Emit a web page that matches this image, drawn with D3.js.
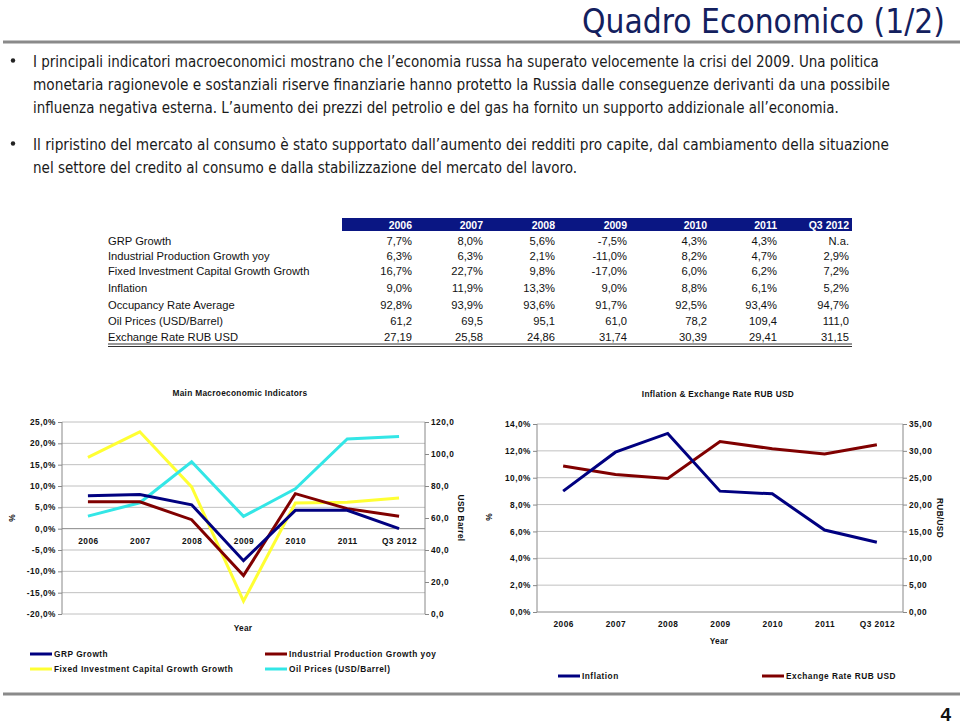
<!DOCTYPE html>
<html><head><meta charset="utf-8">
<script src="https://cdn.jsdelivr.net/npm/d3@7"></script>
<style>body{margin:0;background:#fff}svg{display:block}</style>
</head><body><svg id="c" width="960" height="727"></svg>
<script>
// ---------- DATA ----------
const years = ["2006","2007","2008","2009","2010","2011","Q3 2012"];
const grpGrowth = [7.7, 8.0, 5.6, -7.5, 4.3, 4.3, null];      // Q3 2012: N.a.
const industrialProd = [6.3, 6.3, 2.1, -11.0, 8.2, 4.7, 2.9];
const fixedInvestment = [16.7, 22.7, 9.8, -17.0, 6.0, 6.2, 7.2];
const inflation = [9.0, 11.9, 13.3, 9.0, 8.8, 6.1, 5.2];
const occupancyRate = [92.8, 93.9, 93.6, 91.7, 92.5, 93.4, 94.7];
const oilPrices = [61.2, 69.5, 95.1, 61.0, 78.2, 109.4, 111.0];
const exchangeRate = [27.19, 25.58, 24.86, 31.74, 30.39, 29.41, 31.15];
const leftPctTicks = [-20,-15,-10,-5,0,5,10,15,20,25];
const oilTicks = [0,20,40,60,80,100,120];
const inflTicks = [0,2,4,6,8,10,12,14];
const rubTicks = [0,5,10,15,20,25,30,35];
const bodyLines = [
  "I principali indicatori macroeconomici mostrano che l\u2019economia russa ha superato velocemente la crisi del 2009. Una politica",
  "monetaria ragionevole e sostanziali riserve finanziarie hanno protetto la Russia dalle conseguenze derivanti da una possibile",
  "influenza negativa esterna. L\u2019aumento dei prezzi del petrolio e del gas ha fornito un supporto addizionale all\u2019economia.",
  "Il ripristino del mercato al consumo \u00e8 stato supportato dall\u2019aumento dei redditi pro capite, dal cambiamento della situazione",
  "nel settore del credito al consumo e dalla stabilizzazione del mercato del lavoro."
];

// ---------- helpers ----------
const svg = d3.select("#c");
const comma = (f) => (v) => d3.format(f)(v).replace(".", ",").replace("\u2212","-");
const pct1 = (v) => v == null ? "N.a." : comma(".1f")(v) + "%";
const F = "'Liberation Sans', Arial, sans-serif";
const NAVY = "#000080", RED = "#800000", YEL = "#ffff33", CYAN = "#33e6e6";

// text fitted horizontally to a given width by scaling
function fitText(x, y, w, t, size, fill) {
  const s = svg.append("text").attr("x", 0).attr("y", 0)
    .attr("font-family", "'DejaVu Sans', sans-serif").attr("font-size", size).attr("fill", fill).text(t);
  const len = s.node().getComputedTextLength();
  s.attr("transform", `translate(${x},${y}) scale(${w / len},1)`);
  return s;
}

// ---------- Header ----------
fitText(945 - 363, 33, 363, "Quadro Economico (1/2)", 33, "#13205e");
svg.append("rect").attr("x", 3).attr("y", 40.5).attr("width", 957).attr("height", 3).attr("fill", "#8a8a8a");

const lineSpec = [[67, 847], [90, 857], [113, 806], [150, 857], [173, 545]];
[60.5, 143.5].forEach(y => svg.append("circle").attr("cx", 13).attr("cy", y).attr("r", 2.2).attr("fill", "#222"));
bodyLines.forEach((t, i) => fitText(33, lineSpec[i][0], lineSpec[i][1], t, 15, "#1a1a1a"));

// ---------- Table ----------
const colRight = [412, 483, 555, 627, 707, 777, 849];
svg.append("rect").attr("x", 342).attr("y", 218).attr("width", 510).attr("height", 13).attr("fill", "#0a1683");
years.forEach((y, i) => svg.append("text").attr("x", colRight[i]).attr("y", 228.5).attr("text-anchor", "end")
  .attr("font-family", F).attr("font-weight", "bold").attr("font-size", 10.5).attr("fill", "#fff").text(y));
const rows = [
  {label: "GRP Growth", vals: grpGrowth.map(pct1), y: 245},
  {label: "Industrial Production Growth yoy", vals: industrialProd.map(pct1), y: 259.5},
  {label: "Fixed Investment Capital Growth Growth", vals: fixedInvestment.map(pct1), y: 274.5},
  {label: "Inflation", vals: inflation.map(pct1), y: 292},
  {label: "Occupancy Rate Average", vals: occupancyRate.map(pct1), y: 309},
  {label: "Oil Prices (USD/Barrel)", vals: oilPrices.map(comma(".1f")), y: 325},
  {label: "Exchange Rate RUB USD", vals: exchangeRate.map(comma(".2f")), y: 341}
];
rows.forEach(r => {
  svg.append("text").attr("x", 108).attr("y", r.y).attr("font-family", F).attr("font-size", 11.2).attr("fill", "#111").text(r.label);
  r.vals.forEach((v, i) => svg.append("text").attr("x", colRight[i]).attr("y", r.y).attr("text-anchor", "end")
    .attr("font-family", F).attr("font-size", 11.2).attr("fill", "#111").text(v));
});
[344, 346.5].forEach(y => svg.append("line").attr("x1", 108).attr("x2", 852).attr("y1", y).attr("y2", y).attr("stroke", "#333").attr("stroke-width", 1));

// ---------- common chart style ----------
function styleAxis(g) {
  g.select(".domain").remove();
  g.selectAll(".tick line").attr("stroke", "#888");
  g.selectAll("text").attr("font-family", F).attr("font-weight", "bold").attr("font-size", 8.3)
    .attr("letter-spacing", 0.5).attr("fill", "#111");
}
function label(x, y, t, opts = {}) {
  const s = svg.append("text").attr("x", x).attr("y", y).attr("font-family", F).attr("font-weight", "bold")
    .attr("font-size", opts.size || 8.3).attr("fill", "#111").attr("text-anchor", opts.anchor || "middle")
    .attr("letter-spacing", opts.ls || 0.3).text(t);
  if (opts.rot) s.attr("transform", `rotate(${opts.rot},${x},${y})`);
  return s;
}

// ---------- Left chart ----------
{
  const L = 62, R = 425, T = 422, B = 614;
  const x = d3.scalePoint().domain(years).range([L, R]).padding(0.5);
  const y = d3.scaleLinear().domain([-20, 25]).range([B, T]);
  const y2 = d3.scaleLinear().domain([0, 120]).range([B, T]);
  const g = svg.append("g");
  g.selectAll(".grid").data(leftPctTicks).join("line")
    .attr("x1", L).attr("x2", R).attr("y1", d => y(d)).attr("y2", d => y(d))
    .attr("stroke", d => d === 0 ? "#888" : "#c0c0c0").attr("stroke-width", 1);
  g.append("line").attr("x1", L).attr("x2", L).attr("y1", T).attr("y2", B).attr("stroke", "#888");
  g.append("line").attr("x1", R).attr("x2", R).attr("y1", T).attr("y2", B).attr("stroke", "#888");
  g.append("g").attr("transform", `translate(${L},0)`)
    .call(d3.axisLeft(y).tickValues(leftPctTicks).tickSize(4).tickPadding(2).tickFormat(d => comma(".1f")(d) + "%")).call(styleAxis);
  g.append("g").attr("transform", `translate(${R},0)`)
    .call(d3.axisRight(y2).tickValues(oilTicks).tickSize(4).tickPadding(2).tickFormat(comma(".1f"))).call(styleAxis);
  g.append("g").attr("transform", `translate(0,${y(0)})`)
    .call(d3.axisBottom(x).tickSize(0).tickPadding(9)).call(styleAxis);

  const line = (scale) => d3.line().x((d, i) => x(years[i])).y(d => scale(d));
  const series = [
    {v: fixedInvestment, c: YEL, s: y},
    {v: oilPrices, c: CYAN, s: y2},
    {v: industrialProd, c: RED, s: y},
    {v: grpGrowth.map(v => v == null ? 0 : v), c: NAVY, s: y}
  ];
  series.forEach(se => g.append("path").datum(se.v).attr("d", line(se.s))
    .attr("fill", "none").attr("stroke", se.c).attr("stroke-width", 3).attr("stroke-linejoin", "miter"));

  label(240, 396, "Main Macroeconomic Indicators");
  label(243, 631, "Year");
  label(15, 518, "%", {rot: -90});
  label(458, 518, "USD Barrel", {rot: 90});

  const leg = [
    {t: "GRP Growth", c: NAVY, x: 30, y: 654},
    {t: "Industrial Production Growth yoy", c: RED, x: 265, y: 654},
    {t: "Fixed Investment Capital Growth Growth", c: YEL, x: 30, y: 669},
    {t: "Oil Prices (USD/Barrel)", c: CYAN, x: 265, y: 669}
  ];
  leg.forEach(l => {
    svg.append("line").attr("x1", l.x).attr("x2", l.x + 22).attr("y1", l.y).attr("y2", l.y).attr("stroke", l.c).attr("stroke-width", 3);
    label(l.x + 24, l.y + 3, l.t, {anchor: "start", ls: 0.5});
  });
}

// ---------- Right chart ----------
{
  const L = 537, R = 903, T = 424, B = 612;
  const x = d3.scalePoint().domain(years).range([L, R]).padding(0.5);
  const y = d3.scaleLinear().domain([0, 14]).range([B, T]);
  const y2 = d3.scaleLinear().domain([0, 35]).range([B, T]);
  const g = svg.append("g");
  g.selectAll(".grid").data(inflTicks).join("line")
    .attr("x1", L).attr("x2", R).attr("y1", d => y(d)).attr("y2", d => y(d))
    .attr("stroke", d => d === 0 ? "#888" : "#c0c0c0").attr("stroke-width", 1);
  g.append("line").attr("x1", L).attr("x2", L).attr("y1", T).attr("y2", B).attr("stroke", "#888");
  g.append("line").attr("x1", R).attr("x2", R).attr("y1", T).attr("y2", B).attr("stroke", "#888");
  g.append("g").attr("transform", `translate(${L},0)`)
    .call(d3.axisLeft(y).tickValues(inflTicks).tickSize(4).tickPadding(2).tickFormat(d => comma(".1f")(d) + "%")).call(styleAxis);
  g.append("g").attr("transform", `translate(${R},0)`)
    .call(d3.axisRight(y2).tickValues(rubTicks).tickSize(4).tickPadding(2).tickFormat(comma(".2f"))).call(styleAxis);
  g.append("g").attr("transform", `translate(0,${B})`)
    .call(d3.axisBottom(x).tickSize(0).tickPadding(9)).call(styleAxis);

  const line = (scale) => d3.line().x((d, i) => x(years[i])).y(d => scale(d));
  g.append("path").datum(exchangeRate).attr("d", line(y2)).attr("fill", "none").attr("stroke", RED).attr("stroke-width", 3);
  g.append("path").datum(inflation).attr("d", line(y)).attr("fill", "none").attr("stroke", NAVY).attr("stroke-width", 3);

  label(718, 397, "Inflation & Exchange Rate RUB USD");
  label(719, 644, "Year");
  label(492, 517, "%", {rot: -90});
  label(937, 518, "RUB/USD", {rot: 90});

  const leg = [
    {t: "Inflation", c: NAVY, x: 558, y: 676},
    {t: "Exchange Rate RUB USD", c: RED, x: 762, y: 676}
  ];
  leg.forEach(l => {
    svg.append("line").attr("x1", l.x).attr("x2", l.x + 22).attr("y1", l.y).attr("y2", l.y).attr("stroke", l.c).attr("stroke-width", 3);
    label(l.x + 24, l.y + 3, l.t, {anchor: "start", ls: 0.5});
  });
}

// ---------- Footer ----------
svg.append("rect").attr("x", 3).attr("y", 692.5).attr("width", 957).attr("height", 3).attr("fill", "#8a8a8a");
svg.append("text").attr("x", 951).attr("y", 721).attr("text-anchor", "end").attr("font-family", F)
  .attr("font-weight", "bold").attr("font-size", 19).attr("fill", "#111").text("4");
</script>
</body></html>
